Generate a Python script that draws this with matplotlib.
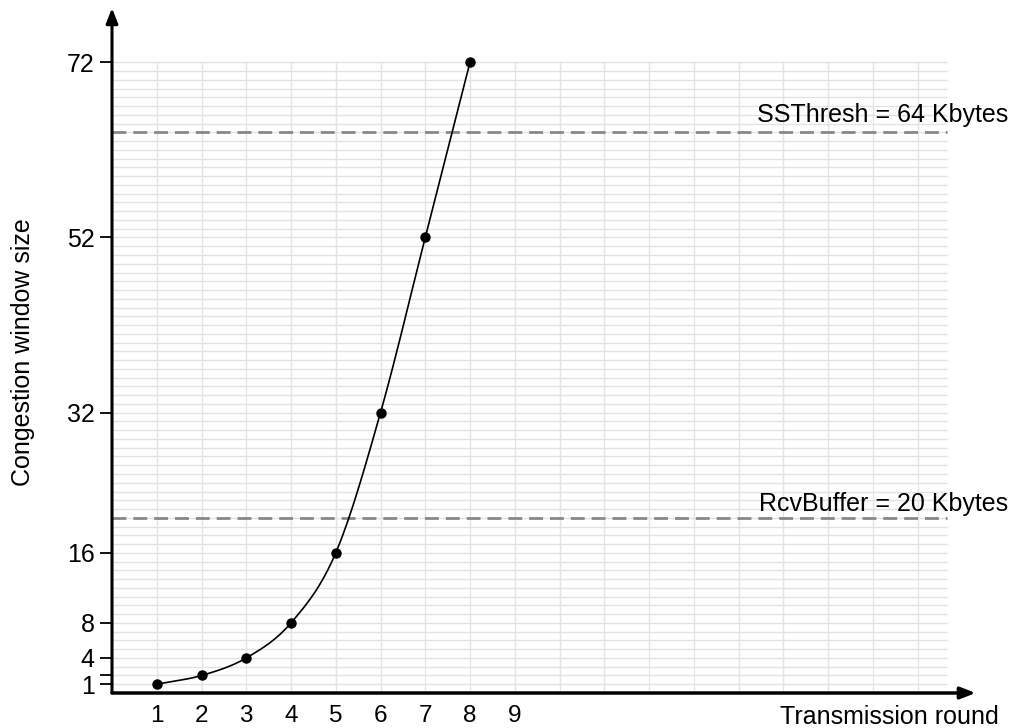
import numpy as np
import matplotlib.pyplot as plt

plt.rcParams['font.family'] = ['Liberation Sans', 'DejaVu Sans']

rounds = [1, 2, 3, 4, 5, 6, 7, 8]
cwnd = [1, 2, 4, 8, 16, 32, 52, 72]
y_ticks = [1, 2, 4, 8, 16, 32, 52, 72]
y_tick_labels = ['1', '', '4', '8', '16', '32', '52', '72']
x_ticks = [1, 2, 3, 4, 5, 6, 7, 8, 9]
ssthresh = 64
rcvbuffer = 20


def catmull_rom(xs, ys, n=30):
    # smooth curve through the points, like a spreadsheet "smoothed line"
    xs = np.asarray(xs, float)
    ys = np.asarray(ys, float)
    px = np.concatenate([[2 * xs[0] - xs[1]], xs, [2 * xs[-1] - xs[-2]]])
    py = np.concatenate([[2 * ys[0] - ys[1]], ys, [2 * ys[-1] - ys[-2]]])
    out_x, out_y = [], []
    t = np.linspace(0, 1, n)
    for i in range(1, len(px) - 2):
        for p, out in ((px, out_x), (py, out_y)):
            p0, p1, p2, p3 = p[i - 1], p[i], p[i + 1], p[i + 2]
            out.extend(0.5 * ((2 * p1) + (-p0 + p2) * t
                              + (2 * p0 - 5 * p1 + 4 * p2 - p3) * t ** 2
                              + (-p0 + 3 * p1 - 3 * p2 + p3) * t ** 3))
    return out_x, out_y


fig = plt.figure(figsize=(10.13, 7.28), dpi=100)
W, H = 1013, 728
x0_px, y0_px = 112, 693
xs_px, ys_px = 44.75, 8.76
xmax, ymax = 19.4, 78.5
ax = fig.add_axes([x0_px / W, (H - y0_px) / H, xmax * xs_px / W, ymax * ys_px / H])
ax.set_xlim(0, xmax)
ax.set_ylim(0, ymax)
for s in ax.spines.values():
    s.set_visible(False)

grid_right = 18.66
ax.hlines(np.arange(0, 73), 0, grid_right, color='#e3e3e3', lw=1, zorder=0)
ax.vlines(np.arange(1, 19), 0, 72, color='#e3e3e3', lw=1, zorder=0)

ax.hlines([ssthresh, rcvbuffer], 0, grid_right, color='#888888', lw=2,
          linestyles=(0, (5, 2.5)), zorder=1)
ax.text(20.02, ssthresh + 0.6, 'SSThresh = 64 Kbytes', ha='right', va='bottom',
        fontsize=18, clip_on=False)
ax.text(20.02, rcvbuffer + 0.2, 'RcvBuffer = 20 Kbytes', ha='right', va='bottom',
        fontsize=18, clip_on=False)

cx, cy = catmull_rom(rounds, cwnd)
ax.plot(cx, cy, color='black', lw=1.2, zorder=3)
ax.plot(rounds, cwnd, 'o', color='black', ms=6.5, zorder=4)

# axes with arrows
ax.annotate('', xy=(19.3, 0), xytext=(0, 0), annotation_clip=False,
            arrowprops=dict(arrowstyle='-|>,head_length=0.9,head_width=0.35',
                            color='black', lw=2.5, shrinkA=0, shrinkB=0))
ax.annotate('', xy=(0, 78.2), xytext=(0, 0), annotation_clip=False,
            arrowprops=dict(arrowstyle='-|>,head_length=0.9,head_width=0.35',
                            color='black', lw=2.2, shrinkA=0, shrinkB=0))

ax.set_yticks(y_ticks)
ax.set_yticklabels(y_tick_labels)
ax.set_xticks(x_ticks)
ax.tick_params(axis='y', length=8.5, width=1.3, labelsize=18, pad=4)
ax.tick_params(axis='x', length=0, labelsize=17.5, pad=9)

fig.text(23 / W, 1 - 352 / H, 'Congestion window size', rotation=90,
         ha='center', va='center', fontsize=18)
fig.text(999 / W, 1 - 717 / H, 'Transmission round', ha='right', va='center',
         fontsize=18)

fig.savefig('out.png', dpi=100)
